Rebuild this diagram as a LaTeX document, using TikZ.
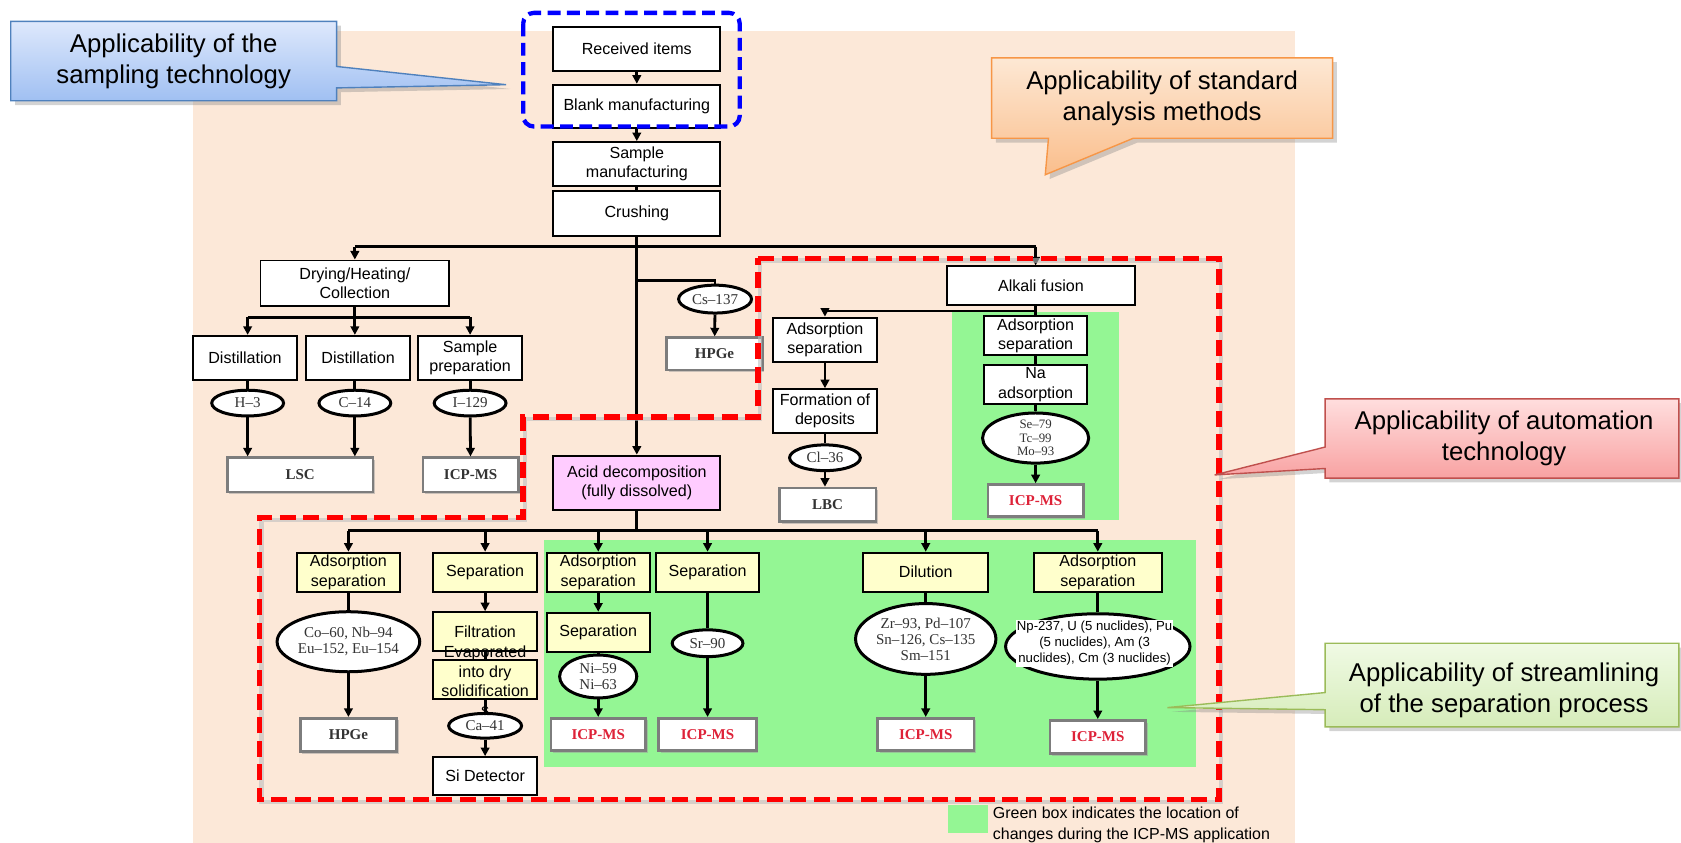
\documentclass[tikz,border=0pt]{standalone}
\usepackage{fontspec}
\setmainfont{Liberation Sans}
\newfontfamily\nuclfont{Liberation Serif}
\usetikzlibrary{arrows.meta,shapes.geometric,shadows}

\definecolor{peach}{RGB}{252,232,216}
\definecolor{icpgreen}{RGB}{148,246,148}
\definecolor{acidpink}{RGB}{255,204,255}
\definecolor{stepyellow}{RGB}{255,255,204}
\definecolor{icpred}{RGB}{222,34,56}
\definecolor{detgray}{RGB}{125,125,125}
\definecolor{bluetop}{RGB}{222,232,252}
\definecolor{bluebot}{RGB}{160,192,242}
\definecolor{blueline}{RGB}{79,129,189}
\definecolor{orangetop}{RGB}{253,232,212}
\definecolor{orangebot}{RGB}{250,190,140}
\definecolor{orangeline}{RGB}{247,150,70}
\definecolor{redtop}{RGB}{255,222,222}
\definecolor{redbot}{RGB}{248,162,162}
\definecolor{redline}{RGB}{192,80,77}
\definecolor{greentop}{RGB}{240,250,228}
\definecolor{greenbot}{RGB}{214,236,186}
\definecolor{greenline}{RGB}{155,187,89}

\begin{document}
\begin{tikzpicture}[x=1pt,y=-1pt,
    box/.style={draw,line width=1.8pt,fill=white,align=center,inner sep=0pt,
      font=\fontsize{15}{18}\selectfont},
    ybox/.style={box,fill=stepyellow},
    nucl/.style={ellipse,draw,line width=2.8pt,fill=white,align=center,inner sep=0pt,
      text=black!80,font=\nuclfont\fontsize{14}{15}\selectfont},
    det/.style={draw=detgray,line width=2.5pt,fill=white,inner sep=0pt,text=black!80,
      font=\nuclfont\bfseries\fontsize{14}{16}\selectfont,
      drop shadow={shadow xshift=2pt,shadow yshift=-2pt,fill=black!40,opacity=.5}},
    link/.style={line width=2.6pt},
    flow/.style={line width=2.6pt,-{Triangle[length=8pt,width=8pt]}},
    callout/.style={line width=1.3pt,
      drop shadow={shadow xshift=4pt,shadow yshift=-4pt,fill=black!50,opacity=.35}},
    calltext/.style={align=center,font=\fontsize{24}{29}\selectfont}]

  \useasboundingbox (0,0) rectangle (1568,786);
  \fill[peach] (180,29) rectangle (1208,786);
  \fill[icpgreen] (888,290.7) rectangle (1043.5,485);
  \fill[icpgreen] (507,503.7) rectangle (1116,715);

  % sampling, crushing
  \node[box,minimum width=156,minimum height=41] (recv) at (594,45.5) {Received items};
  \node[box,minimum width=156,minimum height=40] (blank) at (594,99) {Blank manufacturing};
  \node[box,minimum width=156,minimum height=41] (samplem) at (594,153) {Sample\\manufacturing};
  \node[box,minimum width=156,minimum height=42] (crush) at (594,199) {Crushing};

  % left branch
  \node[box,minimum width=176,minimum height=42] (dry) at (331,264) {Drying/Heating/\\Collection};
  \node[box,minimum width=97,minimum height=41.5] (dist1) at (228.5,334) {Distillation};
  \node[box,minimum width=97,minimum height=41.5] (dist2) at (334,334) {Distillation};
  \node[box,minimum width=97,minimum height=41.5] (sprep) at (438.5,334) {Sample\\preparation};
  \node[nucl,minimum width=67,minimum height=24] (h3) at (231,376) {H–3};
  \node[nucl,minimum width=67,minimum height=24] (c14) at (331,376) {C–14};
  \node[nucl,minimum width=67,minimum height=24] (i129) at (438.5,376) {I–129};
  \node[det,minimum width=136,minimum height=32] (lsc) at (280,443) {LSC};
  \node[det,minimum width=89,minimum height=32] (icpA) at (439,443) {ICP-MS};

  % gamma branch
  \node[nucl,minimum width=68,minimum height=26] (cs137) at (667,279) {Cs–137};
  \node[det,minimum width=89,minimum height=30] (hpgeA) at (666.5,330) {HPGe};

  \node[box,fill=acidpink,minimum width=156,minimum height=51] (acid) at (594,450.5)
    {Acid decomposition\\(fully dissolved)};

  % alkali fusion branch
  \node[box,minimum width=176,minimum height=36] (alkali) at (971,266.5) {Alkali fusion};
  \node[box,minimum width=97,minimum height=41.5] (ads1) at (769.5,317) {Adsorption\\separation};
  \node[box,minimum width=97,minimum height=40.5] (form) at (769.5,383.3) {Formation of\\deposits};
  \node[nucl,minimum width=66,minimum height=24] (cl36) at (769.5,427) {Cl–36};
  \node[det,minimum width=90,minimum height=31.5] (lbc) at (772,471) {LBC};
  \node[box,minimum width=96,minimum height=36.5] (ads2) at (966,313) {Adsorption\\separation};
  \node[box,minimum width=96,minimum height=36.5] (na) at (966,358.7) {Na\\adsorption};
  \node[nucl,minimum width=99,minimum height=40,font=\nuclfont\fontsize{12}{12.5}\selectfont]
    (semo) at (966,408.6) {Se–79\\Tc–99\\Mo–93};
  \node[det,text=icpred,minimum width=89,minimum height=30] (icpB) at (966,467) {ICP-MS};

  % after acid decomposition
  \node[ybox,minimum width=96.5,minimum height=36.5] (b1) at (325,533.75) {Adsorption\\separation};
  \node[ybox,minimum width=96.6,minimum height=36.5] (b2) at (452.5,533.75) {Separation};
  \node[ybox,minimum width=96,minimum height=36.5] (b3) at (558,533.75) {Adsorption\\separation};
  \node[ybox,minimum width=96.5,minimum height=36.5] (b4) at (660,533.75) {Separation};
  \node[ybox,minimum width=116.5,minimum height=36.5] (b5) at (863.5,533.75) {Dilution};
  \node[ybox,minimum width=119,minimum height=36.5] (b6) at (1024,533.75) {Adsorption\\separation};

  \node[nucl,minimum width=124.6,minimum height=56] (co60) at (325,598.6) {Co–60, Nb–94\\Eu–152, Eu–154};
  \node[det,minimum width=90,minimum height=31] (hpgeB) at (325,685.5) {HPGe};

  \node[ybox,minimum width=96.6,minimum height=36] (filt) at (452.5,589) {Filtration};
  \node[ybox,minimum width=96.6,minimum height=36.3] (evap) at (452.5,634) {};
  \node[nucl,minimum width=68,minimum height=23] (ca41) at (452.5,677) {Ca–41};
  \node[box,minimum width=96.6,minimum height=35.6] (sidet) at (452.5,724) {Si Detector};

  \node[ybox,minimum width=96,minimum height=36.5] (sep3) at (558,589.75) {Separation};
  \node[nucl,minimum width=72,minimum height=40] (ni) at (558,631) {Ni–59\\Ni–63};
  \node[det,text=icpred,minimum width=88,minimum height=30] (icpC) at (558,685) {ICP-MS};

  \node[nucl,minimum width=66,minimum height=25] (sr90) at (660,600) {Sr–90};
  \node[det,text=icpred,minimum width=91,minimum height=30] (icpD) at (660,685) {ICP-MS};

  \node[nucl,minimum width=123,minimum height=66] (zr) at (863.5,596) {Zr–93, Pd–107\\Sn–126, Cs–135\\Sm–151};
  \node[det,text=icpred,minimum width=90,minimum height=30] (icpE) at (863.5,685) {ICP-MS};

  \node[nucl,minimum width=172,minimum height=61] (np) at (1024,603) {};
  \node[det,text=icpred,minimum width=89,minimum height=31] (icpF) at (1024,687.5) {ICP-MS};

  % connectors
  \coordinate (busL) at (331,230);
  \coordinate (busR) at (966,230);
  \coordinate (jcs) at (594,262);
  \coordinate (dbus) at (331,296);
  \coordinate (abus) at (966,290);
  \coordinate (bbus) at (594,495);

  \draw[flow] (recv) -- (blank);
  \draw[flow] (blank) -- (samplem);
  \draw[link] (samplem) -- (crush);
  \draw[link] (busL) -- (busR);
  \draw[flow] (crush) -- (acid);
  \draw[flow] (busL) -- (dry);
  \draw[flow] (busR) -- (busR |- alkali.north);
  \draw[link] (jcs) -| (cs137.north);
  \draw[flow] (cs137) -- (hpgeA);

  \draw[link] (dry.south) -- (dbus);
  \draw[link] (dbus -| h3) -- (dbus -| i129);
  \foreach \n/\e in {dist1/h3,dist2/c14,sprep/i129} {
    \draw[flow] (dbus -| \e) -- (\n.north -| \e);
    \draw[link] (\n.south -| \e) -- (\e.north);
  }
  \draw[flow] (h3) -- (h3 |- lsc.north);
  \draw[flow] (c14) -- (c14 |- lsc.north);
  \draw[flow] (i129) -- (icpA);

  \draw[link] (alkali.south -| abus) -- (abus) -- (ads2);
  \draw[link] (abus) -- (abus -| ads1);
  \draw[flow] (abus -| ads1) -- (ads1);
  \draw[flow] (ads1) -- (form);
  \draw[link] (form) -- (cl36);
  \draw[flow] (cl36) -- (cl36 |- lbc.north);
  \draw[link] (ads2) -- (na);
  \draw[link] (na) -- (semo);
  \draw[flow] (semo) -- (icpB);

  \draw[link] (acid) -- (bbus);
  \draw[link] (bbus -| b1) -- (bbus -| b6);
  \foreach \n in {b1,b2,b3,b4,b5,b6}
    \draw[flow] (bbus -| \n) -- (\n);

  \draw[link] (b1) -- (co60);
  \draw[flow] (co60) -- (hpgeB);
  \draw[flow] (b2) -- (filt);
  \draw[link] (filt) -- (evap);
  \draw[link] (evap) -- (ca41);
  \draw[flow] (ca41) -- (sidet);
  \draw[flow] (b3) -- (sep3);
  \draw[link] (sep3) -- (ni);
  \draw[flow] (ni) -- (icpC);
  \draw[link] (b4) -- (sr90);
  \draw[flow] (sr90) -- (icpD);
  \draw[link] (b5) -- (zr);
  \draw[flow] (zr) -- (icpE);
  \draw[link] (b6) -- (np);
  \draw[flow] (np) -- (icpF);

  \node[align=center,font=\fontsize{15}{18}\selectfont] (evaptext) at (452.5,635.4)
    {Evaporated\\into dry\\solidification\\s};
  \node[fill=white,align=center,inner sep=1pt,font=\fontsize{12.3}{15}\selectfont] (nptext) at (1021,600)
    {Np-237, U (5 nuclides), Pu\\(5 nuclides), Am (3\\nuclides), Cm (3 nuclides)};

  % marked regions
  \draw[black!25,line width=4pt,opacity=.6,shift={(2,2)}]
    (707,241) -- (1137,241) -- (1137,746) -- (242,746) -- (242,483)
    -- (488,483) -- (488,389) -- (707,389) -- cycle;
  \draw[red,line width=5pt,dash pattern=on 15pt off 7pt]
    (707,241) -- (1137,241) -- (1137,746) -- (242,746) -- (242,483)
    -- (488,483) -- (488,389) -- (707,389) -- cycle;
  \draw[blue,line width=4pt,dash pattern=on 12pt off 6pt,rounded corners=10pt]
    (488,12) rectangle (690,118);

  % legend
  \fill[icpgreen] (884,751) rectangle (922,777);
  \node[anchor=west,align=left,inner sep=0pt,font=\fontsize{14.9}{19}\selectfont] (legend) at (926,769.5)
    {Green box indicates the location of\\changes during the ICP-MS application};

  % callouts
  \draw[callout,draw=blueline,top color=bluetop,bottom color=bluebot]
    (10,20) -- (314,20) -- (314,62) -- (472,79) -- (314,82) -- (314,94) -- (10,94) -- cycle;
  \node[calltext] (samplingnote) at (162,57) {Applicability of the\\sampling technology};

  \draw[callout,draw=orangeline,top color=orangetop,bottom color=orangebot]
    (925,54) -- (1243,54) -- (1243,129) -- (1057,129) -- (975,163) -- (978,129) -- (925,129) -- cycle;
  \node[calltext] (standardnote) at (1084,91.5) {Applicability of standard\\analysis methods};

  \draw[callout,draw=redline,top color=redtop,bottom color=redbot]
    (1236,372) -- (1566,372) -- (1566,446) -- (1236,446) -- (1236,437) -- (1133,443) -- (1236,417) -- cycle;
  \node[calltext] (automationnote) at (1403,409) {Applicability of automation\\technology};

  \draw[callout,draw=greenline,top color=greentop,bottom color=greenbot]
    (1236,600) -- (1566,600) -- (1566,678) -- (1236,678) -- (1236,662) -- (1089,660) -- (1236,646) -- cycle;
  \node[calltext] (streamnote) at (1403,644) {Applicability of streamlining\\of the separation process};
\end{tikzpicture}
\end{document}
